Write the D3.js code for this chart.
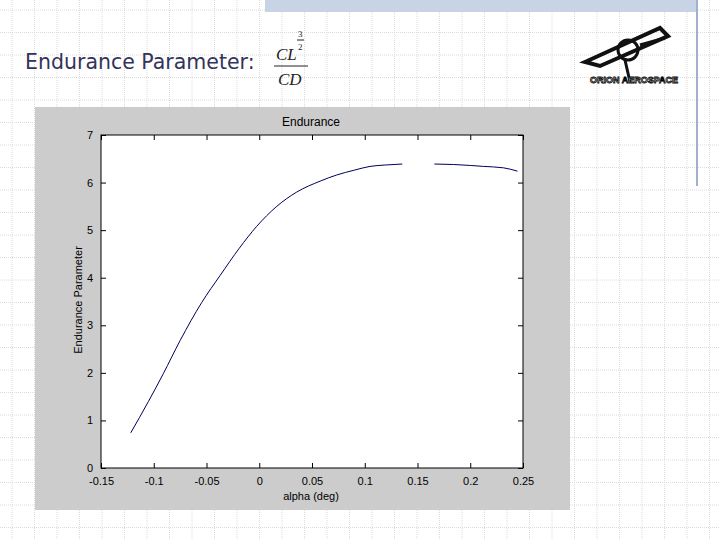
<!DOCTYPE html>
<html><head><meta charset="utf-8">
<script src="https://cdn.jsdelivr.net/npm/d3@7"></script>
<style>body{margin:0;background:#fff}</style>
</head><body>
<script>
// Data (alpha in deg, endurance parameter)
let alpha1 = [-0.1218, -0.105, -0.091, -0.075, -0.0545, -0.037, -0.0189, -0.0024, 0.0166, 0.0355, 0.0577, 0.0735, 0.09, 0.105, 0.12, 0.1356];
let endur1 = [0.74, 1.40, 1.98, 2.68, 3.48, 4.05, 4.62, 5.08, 5.50, 5.80, 6.03, 6.16, 6.26, 6.34, 6.37, 6.39];
let alpha2 = [0.166, 0.184, 0.2, 0.2125, 0.2315, 0.2448];
let endur2 = [6.39, 6.38, 6.36, 6.34, 6.31, 6.24];
let xTicks = [-0.15, -0.1, -0.05, 0, 0.05, 0.1, 0.15, 0.2, 0.25];
let yTicks = [0, 1, 2, 3, 4, 5, 6, 7];

let svg = d3.select("body").append("svg").attr("width", 720).attr("height", 540)
            .style("font-family", "Liberation Sans, Arial, sans-serif");

// slide background grid
let bg = svg.append("g").attr("stroke", "#dcdcdc").attr("stroke-dasharray", "1,1");
for (let x = 12; x < 720; x += 22.5) bg.append("line").attr("x1", x).attr("x2", x).attr("y1", 0).attr("y2", 540);
for (let y = 10; y < 540; y += 22.5) bg.append("line").attr("x1", 0).attr("x2", 720).attr("y1", y).attr("y2", y);
svg.append("rect").attr("x", 265).attr("y", 0).attr("width", 432).attr("height", 12).attr("fill", "#c9d3e6");
svg.append("line").attr("x1", 697).attr("x2", 697).attr("y1", 0).attr("y2", 186).attr("stroke", "#9fb0d0").attr("stroke-width", 2);

// title and formula
svg.append("text").attr("x", 25).attr("y", 69).attr("font-size", 20.5).attr("fill", "#33335a")
   .style("font-family", "DejaVu Sans").text("Endurance Parameter:");
let f = svg.append("g").style("font-family", "Liberation Serif").attr("font-style", "italic").attr("fill", "#222");
f.append("text").attr("x", 276).attr("y", 60).attr("font-size", 17).text("CL");
f.append("text").attr("x", 298).attr("y", 37).attr("font-size", 9).attr("font-style", "normal").text("3");
f.append("line").attr("x1", 297).attr("x2", 304).attr("y1", 40).attr("y2", 40).attr("stroke", "#222");
f.append("text").attr("x", 298).attr("y", 50).attr("font-size", 9).attr("font-style", "normal").text("2");
f.append("line").attr("x1", 274).attr("x2", 308).attr("y1", 66).attr("y2", 66).attr("stroke", "#222");
f.append("text").attr("x", 278).attr("y", 85).attr("font-size", 17).text("CD");

// logo (rough)
let lg = svg.append("g").attr("stroke", "#111").attr("fill", "none").attr("stroke-width", 4);
lg.append("path").attr("d", "M585,62 L660,28 L668,36 L600,66 Z");
lg.append("circle").attr("cx", 628).attr("cy", 50).attr("r", 10).attr("stroke-width", 3);
lg.append("path").attr("d", "M625,60 L630,82 M640,45 L665,38").attr("stroke-width", 3);
svg.append("text").attr("x", 634).attr("y", 83).attr("text-anchor", "middle").attr("font-size", 9)
   .attr("font-weight", "bold").attr("fill", "#fff").attr("stroke", "#000").attr("stroke-width", 0.8).text("ORION AEROSPACE");

// MATLAB figure panel
svg.append("rect").attr("x", 35).attr("y", 107).attr("width", 535).attr("height", 403).attr("fill", "#cccccc");
let margin = { left: 101, top: 135, right: 523, bottom: 468 };
let x = d3.scaleLinear().domain([-0.15, 0.25]).range([margin.left, margin.right]);
let y = d3.scaleLinear().domain([0, 7]).range([margin.bottom, margin.top]);
svg.append("rect").attr("x", margin.left).attr("y", margin.top)
   .attr("width", margin.right - margin.left).attr("height", margin.bottom - margin.top)
   .attr("fill", "#fff").attr("stroke", "#000");

let fmt = d => d === 0 ? "0" : String(d);
let ax = (axis, tr) => svg.append("g").attr("transform", tr).call(axis)
   .call(g => g.select(".domain").remove())
   .call(g => g.selectAll("text").attr("font-size", 11).attr("fill", "#000"));
ax(d3.axisBottom(x).tickValues(xTicks).tickFormat(fmt).tickSize(-5).tickPadding(9), `translate(0,${margin.bottom})`);
ax(d3.axisTop(x).tickValues(xTicks).tickFormat("").tickSize(-5), `translate(0,${margin.top})`);
ax(d3.axisLeft(y).tickValues(yTicks).tickFormat(d3.format("d")).tickSize(-5).tickPadding(8), `translate(${margin.left},0)`);
ax(d3.axisRight(y).tickValues(yTicks).tickFormat("").tickSize(-5), `translate(${margin.right},0)`);

let line = d3.line().x(d => x(d[0])).y(d => y(d[1])).curve(d3.curveMonotoneX);
[[alpha1, endur1], [alpha2, endur2]].forEach(([a, e]) =>
  svg.append("path").datum(d3.zip(a, e)).attr("d", line).attr("fill", "none").attr("stroke", "#00005a").attr("stroke-width", 1));

svg.append("text").attr("x", 311).attr("y", 126).attr("text-anchor", "middle").attr("font-size", 12).text("Endurance");
svg.append("text").attr("x", 311).attr("y", 500).attr("text-anchor", "middle").attr("font-size", 11).text("alpha (deg)");
svg.append("text").attr("transform", "translate(82,300) rotate(-90)").attr("text-anchor", "middle").attr("font-size", 11).text("Endurance Parameter");
</script>
</body></html>
